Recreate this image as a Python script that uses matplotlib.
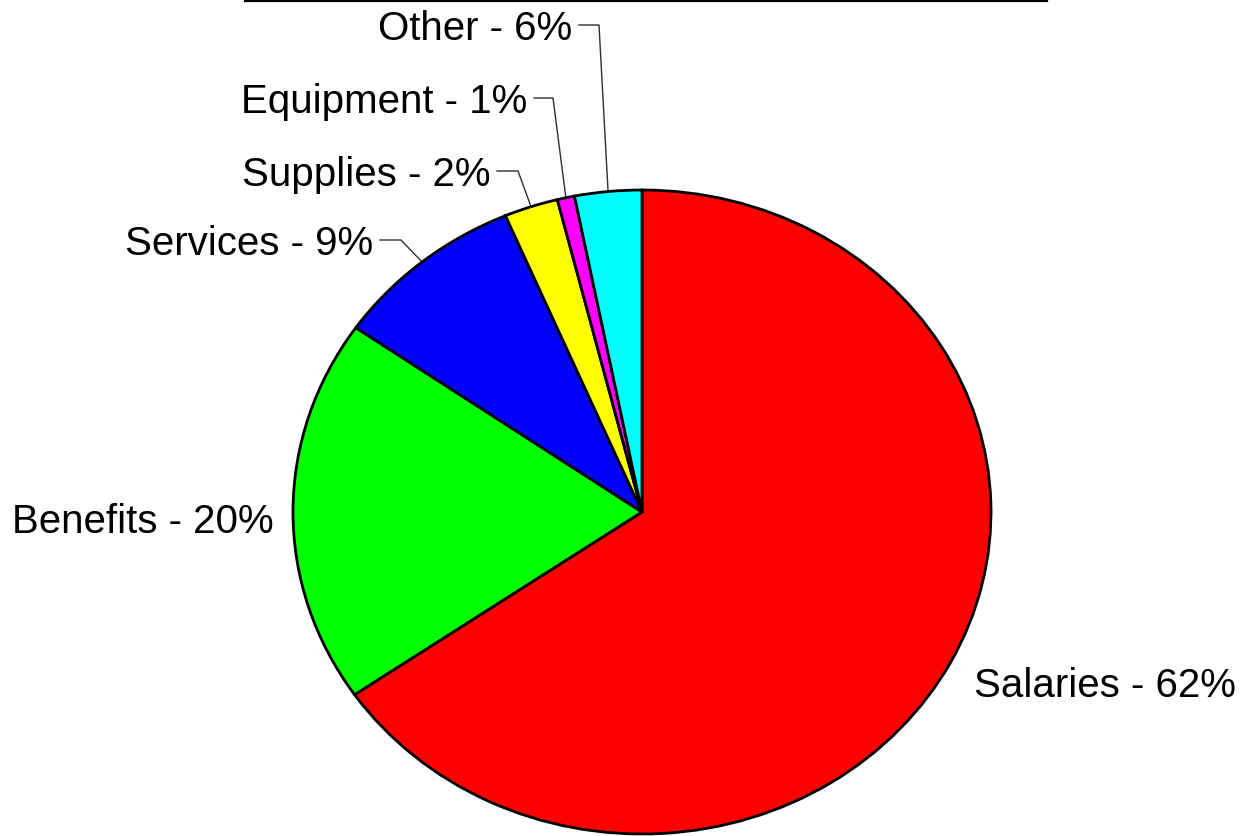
import numpy as np
import matplotlib
matplotlib.use("Agg")
import matplotlib.pyplot as plt
from matplotlib.lines import Line2D

plt.rcParams['font.family'] = ['Liberation Sans', 'DejaVu Sans']

#slice shares as measured from the drawing, and the percentages printed in the labels
categories = ["Salaries", "Benefits", "Services", "Supplies", "Equipment", "Other"]
shares = [65.4, 19.3, 8.9, 2.5, 0.8, 3.1]
label_pcts = [62, 20, 9, 2, 1, 6]
colors = ["#ff0000", "#00ff00", "#0000ff", "#ffff00", "#ff00ff", "#00ffff"]

W, H = 1242, 837
CX, CY, RX, RY = 642, 513, 349, 322


def to_data(px, py):
    #pixel position -> data coords of the pie axes
    return (px - CX) / RX, (CY - py) / RY


fig = plt.figure(figsize=(W / 100, H / 100), dpi=100)
ax = fig.add_axes([(CX - RX) / W, (H - CY - RY) / H, 2 * RX / W, 2 * RY / H])
wedges, _ = ax.pie(shares, colors=colors, startangle=90, counterclock=False,
                   wedgeprops=dict(edgecolor="black", linewidth=2.0))
ax.set_aspect("auto")
ax.set_xlim(-1, 1)
ax.set_ylim(-1, 1)
ax.axis("off")

labels = [f"{c} - {p}%" for c, p in zip(categories, label_pcts)]

#label anchor (pixel), alignment, leader elbow x (None = no leader)
label_pos = {
    "Salaries": (974, 697, "left", None),
    "Benefits": (274, 533, "right", None),
    "Services": (373, 255, "right", 401),
    "Supplies": (490, 186, "right", 518),
    "Equipment": (527, 113, "right", 553),
    "Other": (572, 40, "right", 599),
}

for w, cat, lab in zip(wedges, categories, labels):
    px, py, ha, elbow = label_pos[cat]
    tx, ty = to_data(px, py)
    ax.text(tx, ty, lab, ha=ha, va="baseline", fontsize=29, color="black")
    if elbow is not None:
        mid = np.deg2rad((w.theta1 + w.theta2) / 2)
        ex, ey = np.cos(mid), np.sin(mid)
        x0, ly = to_data(px + 7, py - 14)
        x1, _ = to_data(elbow, py - 14)
        ax.plot([x0, x1, ex], [ly, ly, ey], color="#303030", linewidth=1.0,
                clip_on=False, zorder=0)

#rule across the top
fig.add_artist(Line2D([245 / W, 1047 / W], [1 - 2 / H, 1 - 2 / H],
                      color="black", linewidth=1.6))

plt.savefig("out.png", dpi=100)
